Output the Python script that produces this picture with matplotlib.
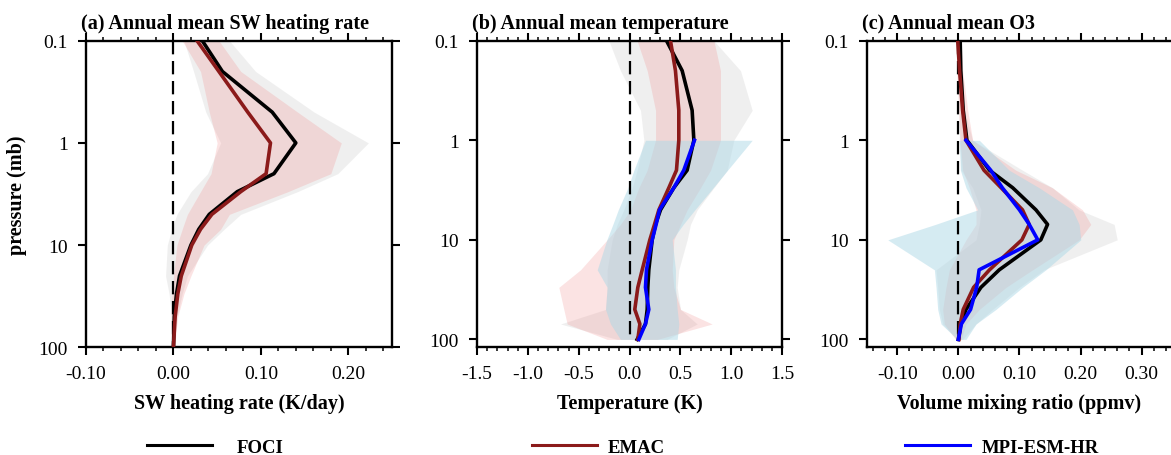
import matplotlib
matplotlib.use('Agg')
import matplotlib.pyplot as plt
from matplotlib.ticker import MultipleLocator, FormatStrFormatter, NullLocator
from matplotlib.lines import Line2D

plt.rcParams['font.family'] = ['Liberation Serif', 'DejaVu Serif']
plt.rcParams['axes.unicode_minus'] = False

# pressure levels (mb)
lev = [0.1, 0.2, 0.5, 1, 2, 3, 5, 7, 10, 20, 30, 50, 70, 100]
lev_mpi = [1, 2, 3, 5, 7, 10, 20, 30, 50, 70, 100]

# (a) SW heating rate (K/day)
sw_foci = [0.033, 0.056, 0.113, 0.140, 0.115, 0.073, 0.041, 0.029, 0.020, 0.007, 0.0035, 0.001, 0.0005, 0.0]
sw_foci_lo = [0.012, 0.023, 0.037, 0.054, 0.039, 0.020, 0.004, -0.002, -0.007, -0.009, -0.005, -0.002, -0.001, 0.0]
sw_foci_hi = [0.064, 0.094, 0.161, 0.223, 0.188, 0.142, 0.077, 0.058, 0.039, 0.016, 0.010, 0.004, 0.002, 0.0005]
sw_emac = [0.027, 0.052, 0.085, 0.111, 0.106, 0.077, 0.044, 0.031, 0.021, 0.009, 0.005, 0.002, 0.001, 0.0]
sw_emac_lo = [0.010, 0.031, 0.041, 0.050, 0.043, 0.031, 0.016, 0.010, 0.004, 0.0, -0.0015, -0.003, -0.003, -0.0015]
sw_emac_hi = [0.052, 0.077, 0.142, 0.192, 0.180, 0.131, 0.064, 0.054, 0.035, 0.020, 0.012, 0.005, 0.003, 0.0015]

# (b) temperature (K)
t_foci = [0.364, 0.518, 0.616, 0.633, 0.567, 0.436, 0.305, 0.256, 0.223, 0.190, 0.180, 0.174, 0.157, 0.075]
t_foci_lo = [-0.203, -0.089, 0.108, 0.141, 0.075, 0.026, -0.056, -0.121, -0.170, -0.220, -0.220, -0.236, -0.679, -0.121]
t_foci_hi = [0.830, 1.092, 1.207, 1.026, 0.961, 0.830, 0.666, 0.600, 0.567, 0.485, 0.469, 0.502, 0.666, 0.370]
t_emac = [0.403, 0.452, 0.485, 0.485, 0.462, 0.387, 0.289, 0.246, 0.200, 0.125, 0.082, 0.052, 0.102, 0.082]
t_emac_lo = [0.075, 0.174, 0.256, 0.256, 0.174, 0.092, 0.010, -0.089, -0.220, -0.482, -0.695, -0.646, -0.613, -0.220]
t_emac_hi = [0.830, 0.895, 0.895, 0.895, 0.797, 0.698, 0.567, 0.502, 0.436, 0.420, 0.436, 0.502, 0.813, 0.272]
t_mpi = [0.639, 0.534, 0.436, 0.295, 0.262, 0.223, 0.167, 0.157, 0.190, 0.157, 0.092]
t_mpi_lo = [0.157, 0.043, -0.016, -0.111, -0.164, -0.223, -0.318, -0.220, -0.236, -0.187, -0.089]
t_mpi_hi = [1.207, 0.964, 0.823, 0.643, 0.528, 0.420, 0.452, 0.452, 0.469, 0.485, 0.469]

# (c) O3 volume mixing ratio (ppmv)
o3_foci = [0.003, 0.004, 0.008, 0.014, 0.051, 0.089, 0.127, 0.146, 0.135, 0.067, 0.037, 0.0125, 0.004, 0.0]
o3_foci_lo = [0.0, 0.0005, 0.001, 0.0016, 0.0044, 0.0234, 0.037, 0.0343, 0.0289, -0.0365, -0.0338, -0.0311, -0.0256, -0.0038]
o3_foci_hi = [0.0027, 0.0044, 0.0098, 0.0234, 0.1051, 0.1541, 0.1977, 0.255, 0.260, 0.140, 0.100, 0.0561, 0.0289, 0.0071]
o3_emac = [-0.001, 0.002, 0.007, 0.0125, 0.042, 0.070, 0.105, 0.116, 0.104, 0.051, 0.025, 0.008, 0.003, 0.001]
o3_emac_lo = [-0.0038, -0.0027, 0.0005, 0.0027, 0.0071, 0.018, 0.0289, 0.0289, 0.0125, -0.0147, -0.0202, -0.0256, -0.0229, -0.0038]
o3_emac_hi = [0.0044, 0.0071, 0.0153, 0.0234, 0.0942, 0.1541, 0.2032, 0.2168, 0.1977, 0.1215, 0.0779, 0.0343, 0.0125, 0.0044]
o3_mpi = [0.0125, 0.053, 0.072, 0.100, 0.116, 0.130, 0.034, 0.030, 0.020, 0.005, 0.0]
o3_mpi_lo = [0.0016, 0.0033, 0.0125, 0.0316, -0.0376, -0.1155, -0.0392, -0.0365, -0.0338, -0.0283, -0.0011]
o3_mpi_hi = [0.0343, 0.0833, 0.1324, 0.1868, 0.1977, 0.2004, 0.1432, 0.1051, 0.0615, 0.0289, 0.0125]

c_foci = 'black'
c_emac = '#8b1a1a'
c_mpi = '#0000ff'

fig = plt.figure(figsize=(11.71, 4.56), dpi=100)
W, H = 1171.0, 456.0
ax_a = fig.add_axes([86 / W, 1 - 348.3 / H, 306 / W, 306.6 / H])
ax_b = fig.add_axes([477 / W, 1 - 348.3 / H, 305 / W, 306.6 / H])
ax_c = fig.add_axes([866.7 / W, 1 - 348.3 / H, 305.5 / W, 306.6 / H])


def setup(ax, xlim, ylim, major, minor, fmt, title, xlabel):
    ax.set_yscale('log')
    ax.set_xlim(xlim)
    ax.set_ylim(ylim)
    ax.set_yticks([0.1, 1, 10, 100])
    ax.set_yticklabels(['0.1', '1', '10', '100'])
    ax.yaxis.set_minor_locator(NullLocator())
    ax.xaxis.set_major_locator(MultipleLocator(major))
    ax.xaxis.set_minor_locator(MultipleLocator(minor))
    ax.xaxis.set_major_formatter(FormatStrFormatter(fmt))
    ax.tick_params(which='both', direction='out', top=True, right=True, labelsize=14)
    ax.tick_params(which='major', length=6, width=1.5)
    ax.tick_params(which='minor', length=3, width=1.1)
    ax.tick_params(axis='y', pad=7)
    ax.tick_params(axis='x', pad=7)
    for s in ax.spines.values():
        s.set_linewidth(1.7)
    ax.plot([0, 0], [0.1, 100], color='black', lw=1.6, ls=(0, (6, 3)), zorder=3)
    ax.text(-0.015, 1.042, title, transform=ax.transAxes, fontsize=14.5,
            fontweight='bold', ha='left', va='baseline')
    ax.set_xlabel(xlabel, fontsize=14.5, fontweight='bold', labelpad=8)


# (a)
ax_a.fill_betweenx(lev, sw_foci_lo, sw_foci_hi, color='#d9d9d9', alpha=0.4, lw=0)
ax_a.fill_betweenx(lev, sw_emac_lo, sw_emac_hi, color='#f08080', alpha=0.22, lw=0)
ax_a.plot(sw_foci, lev, color=c_foci, lw=2.6, zorder=4)
ax_a.plot(sw_emac, lev, color=c_emac, lw=2.6, zorder=4)
setup(ax_a, (-0.1, 0.25), (100, 0.1), 0.1, 0.02, '%.2f',
      '(a) Annual mean SW heating rate', 'SW heating rate (K/day)')
ax_a.set_ylabel('pressure (mb)', fontsize=14.5, fontweight='bold', labelpad=8)

# (b)
ax_b.fill_betweenx(lev, t_foci_lo, t_foci_hi, color='#d9d9d9', alpha=0.4, lw=0)
ax_b.fill_betweenx(lev, t_emac_lo, t_emac_hi, color='#f08080', alpha=0.22, lw=0)
ax_b.fill_betweenx(lev_mpi, t_mpi_lo, t_mpi_hi, color='#add8e6', alpha=0.5, lw=0)
ax_b.plot(t_foci, lev, color=c_foci, lw=2.6, zorder=4)
ax_b.plot(t_emac, lev, color=c_emac, lw=2.6, zorder=4)
ax_b.plot(t_mpi, lev_mpi, color=c_mpi, lw=2.6, zorder=4)
setup(ax_b, (-1.5, 1.5), (120, 0.1), 0.5, 0.1, '%.1f',
      '(b) Annual mean temperature', 'Temperature (K)')

# (c)
ax_c.fill_betweenx(lev, o3_foci_lo, o3_foci_hi, color='#d9d9d9', alpha=0.4, lw=0)
ax_c.fill_betweenx(lev, o3_emac_lo, o3_emac_hi, color='#f08080', alpha=0.22, lw=0)
ax_c.fill_betweenx(lev_mpi, o3_mpi_lo, o3_mpi_hi, color='#add8e6', alpha=0.5, lw=0)
ax_c.plot(o3_foci, lev, color=c_foci, lw=2.6, zorder=4)
ax_c.plot(o3_emac, lev, color=c_emac, lw=2.6, zorder=4)
ax_c.plot(o3_mpi, lev_mpi, color=c_mpi, lw=2.6, zorder=4)
setup(ax_c, (-0.15, 0.35), (120, 0.1), 0.1, 0.02, '%.2f',
      '(c) Annual mean O3', 'Volume mixing ratio (ppmv)')

# legend entries below each panel
entries = [('FOCI', c_foci, 146.7, 1.33), ('EMAC', c_emac, 531.7, 0.6),
           ('MPI-ESM-HR', c_mpi, 905.0, 0.6)]
for name, col, x0, tp in entries:
    h = Line2D([], [], color=col, lw=2.2)
    fig.legend([h], [name], loc='center left', bbox_to_anchor=(x0 / W, 1 - 448 / H),
               frameon=False, borderpad=0, borderaxespad=0, handlelength=3.47,
               handletextpad=tp, prop={'size': 13.5, 'weight': 'bold'})

fig.savefig('out.png', dpi=100)
